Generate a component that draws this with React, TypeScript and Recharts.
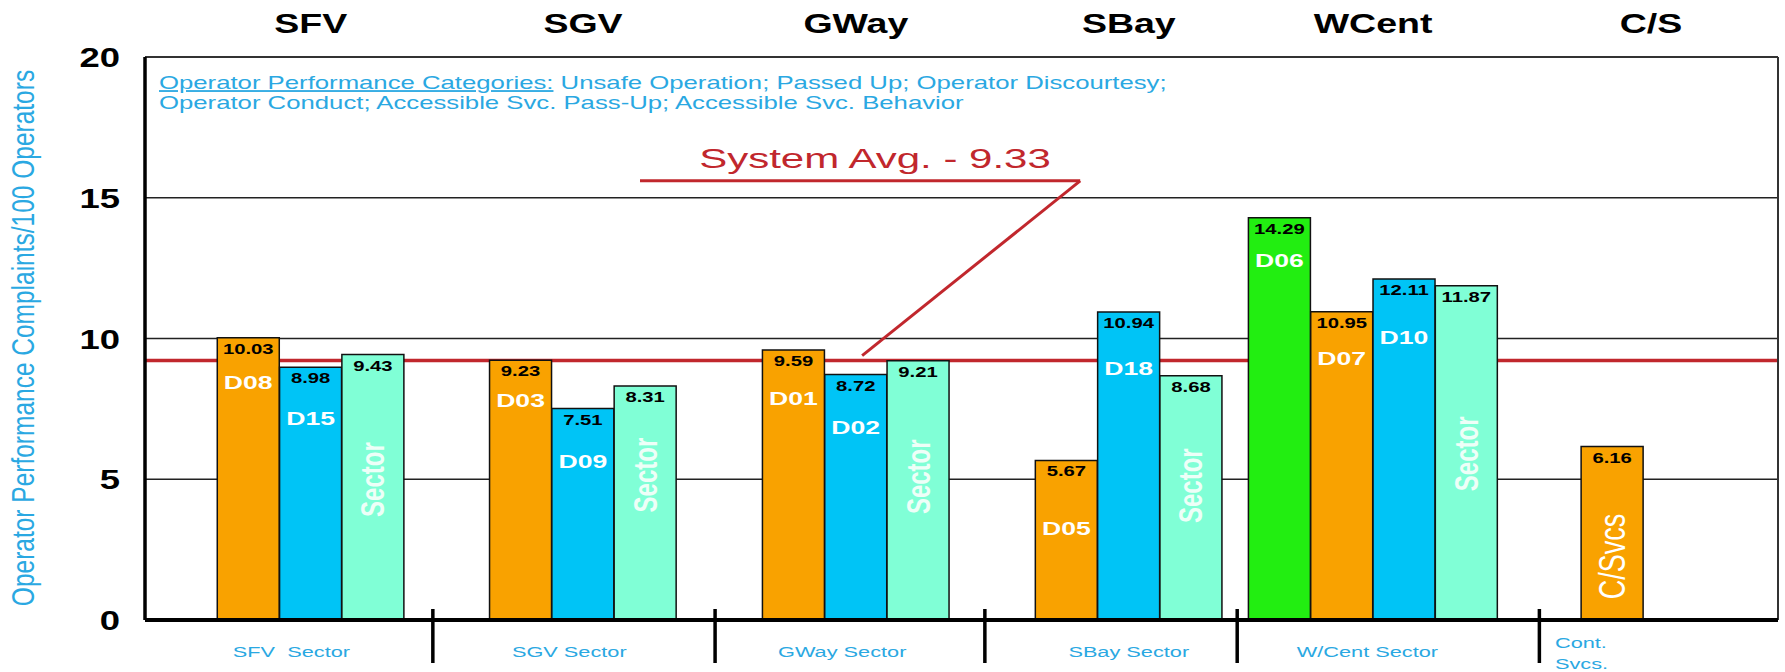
import React from "react";
import {
  BarChart,
  Bar,
  XAxis,
  YAxis,
  CartesianGrid,
  Cell,
  LabelList,
  ReferenceLine,
  Customized,
} from "recharts";

// ---- data ----
const groupNames = ["SFV", "SGV", "GWay", "SBay", "WCent", "C/S"];
const sectorNames = ["SFV  Sector", "SGV Sector", "GWay Sector", "SBay Sector", "W/Cent Sector", "Cont.|Svcs."];
const barLabels = ["D08", "D15", "Sector", "D03", "D09", "Sector", "D01", "D02", "Sector", "D05", "D18", "Sector", "D06", "D07", "D10", "Sector", "C/Svcs"];
const barValues = [10.03, 8.98, 9.43, 9.23, 7.51, 8.31, 9.59, 8.72, 9.21, 5.67, 10.94, 8.68, 14.29, 10.95, 12.11, 11.87, 6.16];
const barGroup = [0, 0, 0, 1, 1, 1, 2, 2, 2, 3, 3, 3, 4, 4, 4, 4, 5];
const yTicks = [0, 5, 10, 15, 20];
const systemAvgLabel = "System Avg. - 9.33";
const systemAvgLine = 9.22; // where the red line sits in the picture
const legendHead = "Operator Performance Categories:";
const legendLine1 = " Unsafe Operation; Passed Up; Operator Discourtesy;";
const legendLine2 = "Operator Conduct; Accessible Svc. Pass-Up; Accessible Svc. Behavior";
const yLabel = "Operator Performance Complaints/100 Operators";

// ---- layout (slot units on the x axis, one slot = one bar) ----
const GAP_BEFORE = [1.16, 1.37, 1.38, 1.38, 0.42, 1.34];
const GAP_AFTER = 2.16;
const TITLE_SHIFT = [0, 0, 0, 0, 0, 0.62];
const SECTOR_SHIFT = [-0.31, -0.22, -0.22, 0, -0.09, 0];
const SEPARATORS = [4.62, 9.15, 13.48, 17.53, 22.38];
const LABEL_DY = [44, 51, 125, 40, 52, 89, 48, 52, 116, 68, 56, 110, 42, 46, 58, 168, 110];

const barPos: number[] = [];
const groupCenter: number[] = [];
const groupStart: number[] = [];
let cursor = 0;
groupNames.forEach((_, g) => {
  cursor += GAP_BEFORE[g];
  groupStart.push(cursor);
  const n = barGroup.filter((b) => b === g).length;
  for (let i = 0; i < n; i++) barPos.push(cursor + i + 0.5);
  groupCenter.push(cursor + n / 2);
  cursor += n;
});
const X_MAX = cursor + GAP_AFTER;
const titlePos = groupCenter.map((c, i) => c + TITLE_SHIFT[i]);
const sectorPos = groupCenter.map((c, i) => (i === 5 ? groupStart[i] - 0.42 : c + SECTOR_SHIFT[i]));

const rows = barValues.map((v, i) => ({ pos: barPos[i], value: v, name: barLabels[i] }));

// ---- styles ----
const FONT = "'Liberation Sans', Arial, sans-serif";
const ORANGE = "#F9A200";
const BLUE = "#00C4F6";
const AQUA = "#80FFD6";
const GREEN = "#22EE11";
const RED = "#C1272D";
const LIGHT_BLUE = "#2AA8E2";
const barColors = [ORANGE, BLUE, AQUA, ORANGE, BLUE, AQUA, ORANGE, BLUE, AQUA, ORANGE, BLUE, AQUA, GREEN, ORANGE, BLUE, AQUA, ORANGE];
const SX = 1.45; // the picture is stretched sideways

function SText({ x, y, size, weight = 400, fill = "#000", anchor = "middle", sx = SX, children }: any) {
  return (
    <text
      transform={`translate(${x},${y}) scale(${sx},1)`}
      textAnchor={anchor}
      fontSize={size}
      fontWeight={weight}
      fill={fill}
      fontFamily={FONT}
    >
      {children}
    </text>
  );
}

// rotated text; the sideways stretch makes its glyphs thicker
function VText({ x, y, size, weight = 400, fill = "#fff", thick = 1.4, children }: any) {
  return (
    <text
      transform={`translate(${x},${y}) scale(${thick},1) rotate(-90)`}
      textAnchor="middle"
      dominantBaseline="central"
      fontSize={size}
      fontWeight={weight}
      fill={fill}
      fontFamily={FONT}
    >
      {children}
    </text>
  );
}

const box = (p: any) => {
  const vb = p.viewBox && p.viewBox.width != null ? p.viewBox : p;
  return { x: Number(vb.x), y: Number(vb.y), w: Number(vb.width) };
};

const ValueLabel = (p: any) => {
  const { x, y, w } = box(p);
  return (
    <SText x={x + w / 2} y={y + 16} size={15} weight={700} sx={1.35}>
      {Number(p.value).toFixed(2)}
    </SText>
  );
};

const NameLabel = (p: any) => {
  const { x, y, w } = box(p);
  const idx = p.index != null ? p.index : barPos.findIndex((b) => Math.abs(b - p.value) < 1e-9);
  const name = barLabels[idx];
  const cx = x + w / 2;
  const cy = y + LABEL_DY[idx];
  if (name === "Sector") return <VText x={cx} y={cy} size={24} weight={700} fill="#EEFFF8">{name}</VText>;
  if (name === "C/Svcs") return <VText x={cx} y={cy} size={27}>{name}</VText>;
  return (
    <SText x={cx} y={cy + 7} size={19} weight={700} fill="#fff" sx={1.4}>
      {name}
    </SText>
  );
};

const TopTick = (p: any) => {
  const i = titlePos.indexOf(p.payload.value);
  return (
    <SText x={p.x} y={33} size={28} weight={700} sx={1.34}>
      {groupNames[i]}
    </SText>
  );
};

const BottomTick = (p: any) => {
  const v = p.payload.value;
  if (SEPARATORS.includes(v)) {
    return <line x1={p.x} x2={p.x} y1={609} y2={663} stroke="#000" strokeWidth={3.5} />;
  }
  const i = sectorPos.indexOf(v);
  const parts = sectorNames[i].split("|");
  if (parts.length > 1) {
    return (
      <g>
        <SText x={p.x} y={648} size={15} fill={LIGHT_BLUE} anchor="start">{parts[0]}</SText>
        <SText x={p.x} y={669} size={15} fill={LIGHT_BLUE} anchor="start">{parts[1]}</SText>
      </g>
    );
  }
  return (
    <SText x={p.x} y={657} size={15} fill={LIGHT_BLUE}>
      {parts[0].replace(/ /g, "\u00a0")}
    </SText>
  );
};

const YTick = (p: any) => (
  <SText x={120} y={p.y + 10} size={27} weight={700} anchor="end" sx={1.35}>
    {p.payload.value}
  </SText>
);

const Notes = () => (
  <g>
    <text transform="translate(159,88.5) scale(1.43,1)" fontSize={18} fill={LIGHT_BLUE} fontFamily={FONT}>
      <tspan style={{ textDecoration: "underline" }}>{legendHead}</tspan>
      <tspan>{legendLine1}</tspan>
    </text>
    <SText x={159} y={109} size={18} fill={LIGHT_BLUE} anchor="start" sx={1.43}>{legendLine2}</SText>
    <SText x={875} y={168} size={28} fill={RED} sx={1.5}>{systemAvgLabel}</SText>
    <VText x={24} y={338} size={24.5} fill={LIGHT_BLUE} thick={1.25}>{yLabel}</VText>
  </g>
);

export default function App() {
  return (
    <div style={{ position: "absolute", left: 0, top: 0, background: "#fff" }}>
      <BarChart width={1785} height={672} data={rows} margin={{ top: 0, right: 7, bottom: 0, left: 0 }}>
        <CartesianGrid vertical={false} stroke="#222" strokeWidth={1.3} />
        <XAxis
          xAxisId="top"
          orientation="top"
          type="number"
          dataKey="pos"
          domain={[0, X_MAX]}
          ticks={titlePos}
          interval={0}
          height={57}
          axisLine={false}
          tickLine={false}
          tick={TopTick}
        />
        <XAxis
          type="number"
          dataKey="pos"
          domain={[0, X_MAX]}
          ticks={[...sectorPos, ...SEPARATORS]}
          interval={0}
          height={52}
          axisLine={{ stroke: "#000", strokeWidth: 4 }}
          tickLine={false}
          tick={BottomTick}
        />
        <YAxis
          type="number"
          domain={[0, 20]}
          ticks={yTicks}
          interval={0}
          width={145}
          axisLine={{ stroke: "#000", strokeWidth: 3.5 }}
          tickLine={false}
          tick={YTick}
        />
        <ReferenceLine y={systemAvgLine} stroke={RED} strokeWidth={3.5} zIndex={0} />
        <ReferenceLine y={20} stroke="#333" strokeWidth={2} />
        <ReferenceLine x={X_MAX} stroke="#333" strokeWidth={2} />
        <Bar dataKey="value" barSize={62} stroke="#111" strokeWidth={1.5} isAnimationActive={false}>
          {rows.map((r, i) => (
            <Cell key={"cell-" + i} fill={barColors[i]} />
          ))}
          <LabelList dataKey="value" content={ValueLabel} />
          <LabelList dataKey="name" content={NameLabel} />
        </Bar>
        <ReferenceLine
          segment={[{ x: 7.945, y: 15.6 }, { x: 15.01, y: 15.6 }]}
          stroke={RED}
          strokeWidth={3}
          ifOverflow="visible"
        />
        <ReferenceLine
          segment={[{ x: 15.01, y: 15.6 }, { x: 11.51, y: 9.39 }]}
          stroke={RED}
          strokeWidth={3}
          ifOverflow="visible"
        />
        <Customized component={Notes} />
      </BarChart>
    </div>
  );
}
